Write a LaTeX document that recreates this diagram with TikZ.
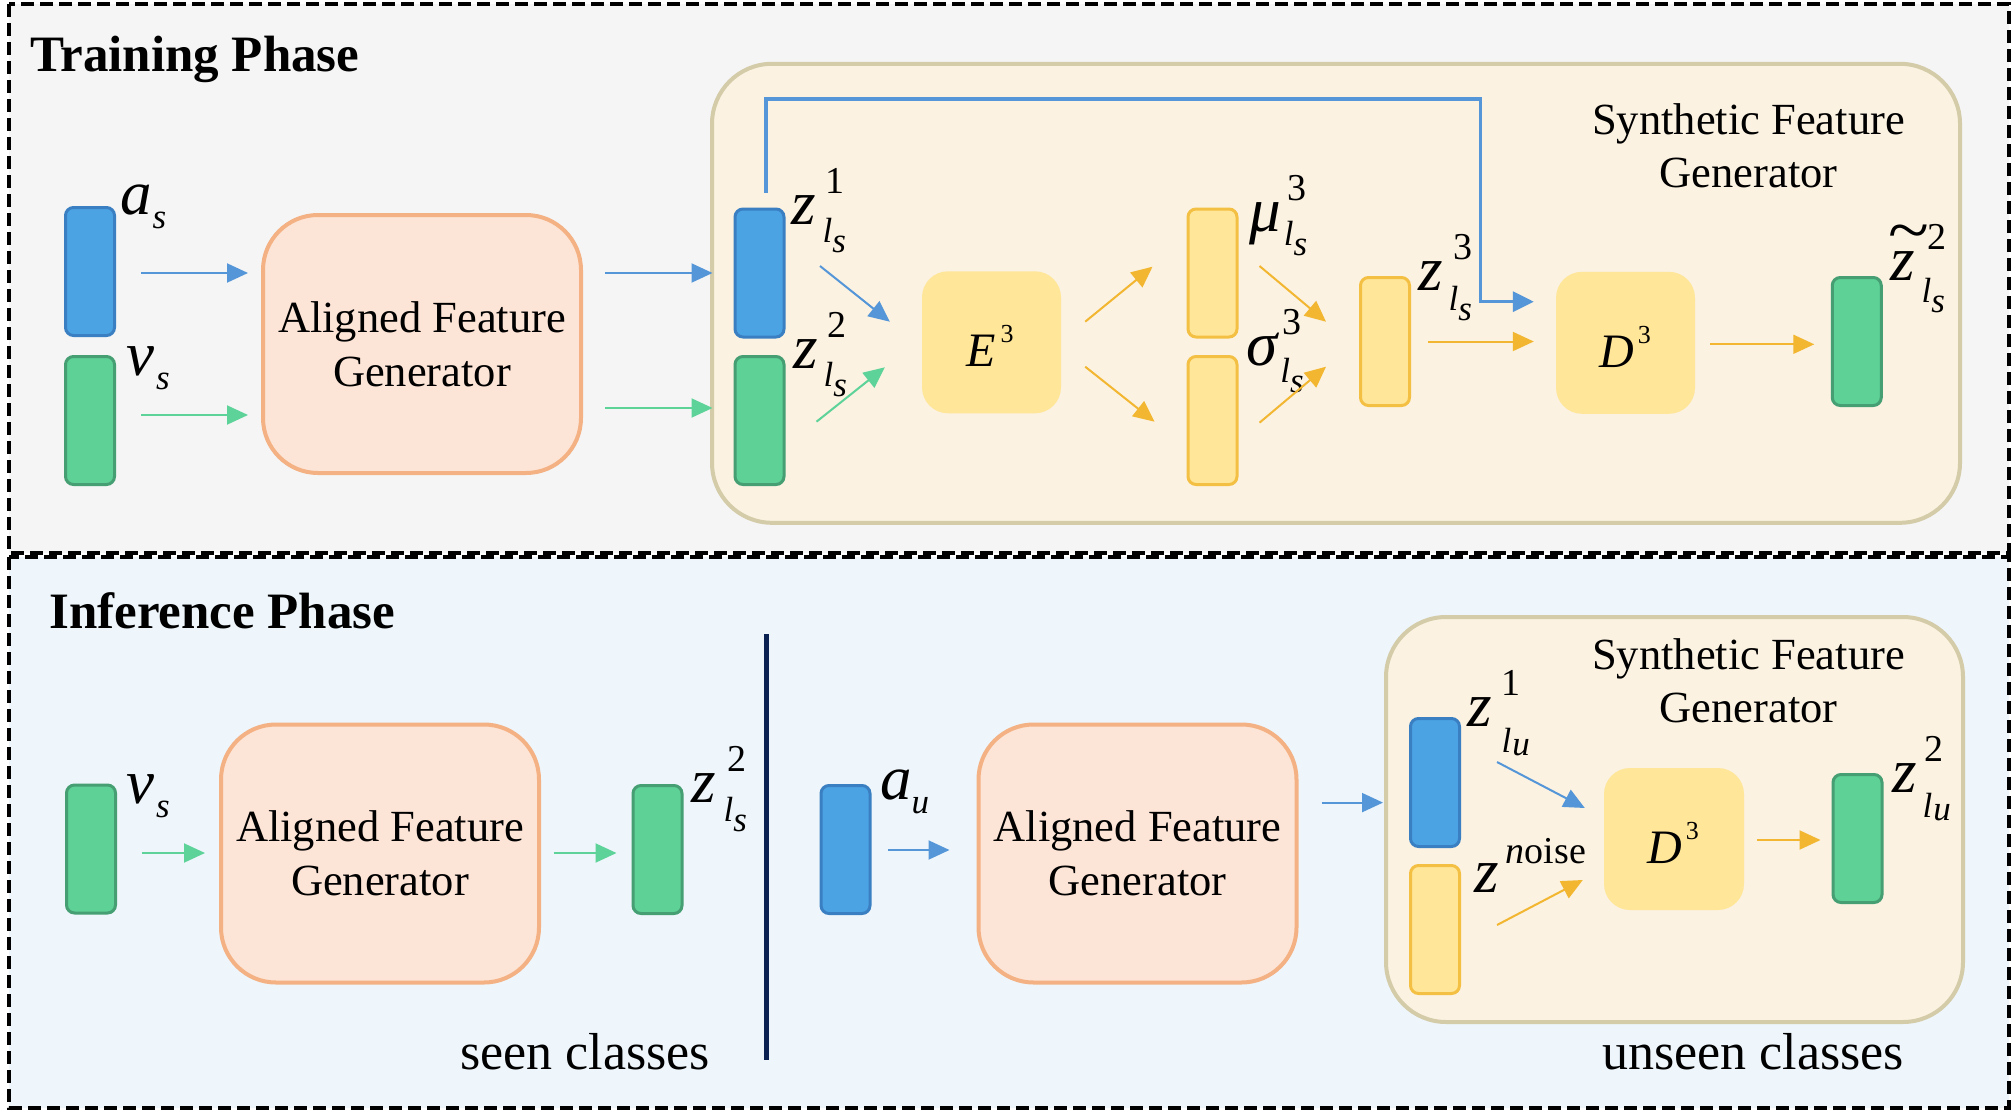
\documentclass[tikz,border=0pt]{standalone}
\usepackage{fontspec}
\usepackage{graphicx}
\setmainfont{Liberation Serif}
\usetikzlibrary{arrows.meta,calc}
\definecolor{bluefill}{HTML}{4CA3E4}
\definecolor{blueedge}{HTML}{3A7FC1}
\definecolor{greenfill}{HTML}{5DD196}
\definecolor{greenedge}{HTML}{459F72}
\definecolor{yelfill}{HTML}{FFE699}
\definecolor{yeledge}{HTML}{F4C043}
\definecolor{orfill}{HTML}{FCE4D6}
\definecolor{oredge}{HTML}{F4B183}
\definecolor{synfill}{HTML}{FBF2E1}
\definecolor{synedge}{HTML}{D4CBA9}
\definecolor{topbg}{HTML}{F5F5F5}
\definecolor{botbg}{HTML}{EEF6FB}
\definecolor{arrblue}{HTML}{5596D8}
\definecolor{arrgreen}{HTML}{5DD39A}
\definecolor{arryel}{HTML}{F2B631}
\definecolor{navy}{HTML}{0B2152}
\newcommand{\mainf}{\fontsize{63}{63}\selectfont}
\newcommand{\supf}{\fontsize{38}{38}\selectfont}
\newcommand{\subf}{\fontsize{35}{35}\selectfont}
% #1 sup kern, #2 sub kern, #3 sub lowering, #4 main, #5 sup, #6 sub, #7 subsub
\newcommand{\Zlab}[7]{{\mainf\itshape #4}\makebox[0pt][l]{\kern#1pt\raisebox{31pt}{\supf\upshape #5}}\kern#2pt\raisebox{-#3pt}{\subf\itshape #6#7}}
\newcommand{\ssub}[1]{\raisebox{-10pt}{#1}}
\newcommand{\usub}[1]{\kern1pt\raisebox{-3pt}{#1}}
% #1 main, #2 sub, #3 kern
\newcommand{\Slab}[3]{{\mainf\itshape #1}\kern#3pt\raisebox{-14pt}{\subf\itshape #2}}
% #1 letter, #2 kern
\newcommand{\Elab}[2]{{\fontsize{48}{48}\selectfont\itshape #1}\kern#2pt\raisebox{24pt}{\fontsize{26}{26}\selectfont 3}}
\begin{document}
\begin{tikzpicture}[x=1pt,y=-1pt,
  frame/.style={draw=black, line width=4pt, dash pattern=on 13pt off 6pt},
  bar/.style={line width=3pt, rounded corners=8pt, minimum width=49pt, minimum height=128pt, inner sep=0pt},
  bluebar/.style={bar, draw=blueedge, fill=bluefill},
  greenbar/.style={bar, draw=greenedge, fill=greenfill},
  yelbar/.style={bar, draw=yeledge, fill=yelfill},
  afgbox/.style={draw=oredge, fill=orfill, line width=4pt, rounded corners=55pt, minimum width=318pt, minimum height=258pt, align=center, font=\fontsize{44.5}{54}\selectfont},
  synbox/.style={draw=synedge, fill=synfill, line width=4pt, rounded corners=60pt, inner sep=0pt},
  ebox/.style={fill=yelfill, rounded corners=26pt, minimum width=139pt, minimum height=142pt, inner sep=0pt},
  lab/.style={anchor=base west, inner sep=0pt},
  boxtext/.style={align=center, font=\fontsize{44.5}{53}\selectfont, inner sep=0pt},
  title/.style={anchor=base west, inner sep=0pt, font=\fontsize{51}{51}\selectfont\bfseries},
  cls/.style={anchor=base west, inner sep=0pt, font=\fontsize{52}{52}\selectfont},
  arr/.style={line width=2pt, -{Triangle[length=21pt,width=19pt]}},
  barr/.style={arr, draw=arrblue},
  garr/.style={arr, draw=arrgreen},
  yarr/.style={arr, draw=arryel},
  bline/.style={draw=arrblue, line width=3.5pt, -{Triangle[length=21pt,width=20pt]}}
]
\useasboundingbox (0,0) rectangle (2016,1116);
\fill[white] (0,0) rectangle (2016,1116);
\draw[frame, fill=topbg] (9,4) rectangle (2009,553);
\draw[frame, fill=botbg] (9,557) rectangle (2009,1108);

% ---------------- Training phase ----------------
\node[title] (ttrain) at (30,71) {Training Phase};
\node[bluebar] (as) at (90,271.5) {};
\node[greenbar] (vs) at (90,420.5) {};
\node[lab] (las) at (120,214) {\Slab{a}{s}{1}};
\node[lab] (lvs) at (126,375) {\Slab{v}{s}{2}};
\node[afgbox] (afg1) at (422,344) {Aligned Feature\\Generator};

\node[synbox, minimum width=1248pt, minimum height=459pt] (syn1) at (1336,293.3) {};
\node[boxtext] (syn1t) at (1748.5,146.2) {Synthetic Feature\\Generator};

\node[bluebar] (z1) at (759.5,273) {};
\node[greenbar] (z2) at (759.5,420.5) {};
\node[lab] (lz1) at (791,224) {\Zlab{10}{7}{18}{z}{1}{l}{\ssub{s}}};
\node[lab] (lz2) at (793,368) {\Zlab{10}{6}{18}{z}{2}{l}{\ssub{s}}};

\node[ebox] (E) at (991.5,342.3) {};
\node[lab] (Et) at (966,366) {\Elab{E}{5}};

\node[yelbar] (mu) at (1212.5,273) {};
\node[yelbar] (sig) at (1212.5,420.5) {};
\node[lab] (lmu) at (1249,231) {\Zlab{7}{3}{14}{μ}{3}{l}{\ssub{s}}};
\node[lab] (lsig) at (1246,365) {\Zlab{5}{3}{17}{σ}{3}{l}{\ssub{s}}};

\node[yelbar] (z3) at (1385,341.5) {};
\node[lab] (lz3) at (1418,290) {\Zlab{11}{6}{20}{z}{3}{l}{\ssub{s}}};

\node[ebox] (D) at (1625.5,342.8) {};
\node[lab] (Dt) at (1599,367) {\Elab{D}{4}};

\node[greenbar] (zt) at (1856.75,341.5) {};
\node[lab] (lzt) at (1890,280) {\makebox[0pt][l]{\kern-2pt\raisebox{28pt}{\scalebox{1.3}[1.15]{\fontsize{58}{58}\selectfont\textasciitilde}}}\Zlab{13}{7}{22}{z}{2}{l}{\ssub{s}}};

% connectors (training)
\draw[barr, shorten <=25pt, shorten >=13pt] (as.east |- 0,273) -- (afg1.west |- 0,273);
\draw[garr, shorten <=25pt, shorten >=13pt] (vs.east |- 0,415) -- (afg1.west |- 0,415);
\draw[barr, shorten <=22pt, shorten >=21pt] (afg1.east |- z1.east) -- (z1.west);
\draw[garr, shorten <=22pt, shorten >=21pt] (afg1.east |- 0,408) -- (z2.west |- 0,408);
\draw[bline] ($(z1.north)+(6.5,-15)$) -- ++(0,-93.7) -| ($(D.west)+(-75.5,-41.1)$) -- ($(D.west)+(-22,-41.1)$);
\draw[barr] ($(z1.east)+(34.5,-7)$) -- ($(E.west)+(-32,-20.6)$);
\draw[garr] ($(z2.east)+(31,1.2)$) -- ($(E.west)+(-37,25)$);
\draw[yarr] ($(E.east)+(24,-20.6)$) -- ($(mu.west)+(-34,-6.3)$);
\draw[yarr] ($(E.east)+(24,24.4)$) -- ($(sig.west)+(-32,1.2)$);
\draw[yarr] ($(mu.east)+(21,-7)$) -- ($(z3.west)+(-33,-19.8)$);
\draw[yarr] ($(sig.east)+(21,2.2)$) -- ($(z3.west)+(-33,25.2)$);
\draw[yarr, shorten <=17pt, shorten >=22pt] (z3.east) -- (D.west |- z3.east);
\draw[yarr, shorten <=15pt, shorten >=16.5pt] (D.east |- 0,344.3) -- (zt.west |- 0,344.3);

% ---------------- Inference phase ----------------
\node[title] (tinf) at (49,628) {Inference Phase};
\node[greenbar] (vs2) at (91,849) {};
\node[lab] (lvs2) at (126,803) {\Slab{v}{s}{2}};
\node[afgbox] (afg2) at (380,853.5) {Aligned Feature\\Generator};
\node[greenbar] (zs2) at (657.5,849.5) {};
\node[lab] (lzs2) at (691,802) {\Zlab{12}{8}{19}{z}{2}{l}{\ssub{s}}};
\node[cls] (seen) at (460,1069) {seen classes};

\coordinate (vtop) at (766,634);
\coordinate (vbot) at (766,1060);
\draw[navy, line width=5pt] (vtop) -- (vbot);

\node[bluebar] (au) at (845.5,849.5) {};
\node[lab] (lau) at (880,799) {\Slab{a}{u}{0}};
\node[afgbox] (afg3) at (1137.5,853.5) {Aligned Feature\\Generator};

\node[synbox, minimum width=577pt, minimum height=405pt] (syn2) at (1674.5,819.5) {};
\node[boxtext] (syn2t) at (1748.5,681.2) {Synthetic Feature\\Generator};
\node[bluebar] (zu1) at (1435,782.5) {};
\node[yelbar] (nz) at (1435,929.5) {};
\node[lab] (lzu1) at (1467,726) {\Zlab{10}{10}{26}{z}{1}{l}{\usub{u}}};
\node[lab] (lnz) at (1474,892) {{\mainf\itshape z}\kern7pt\raisebox{29pt}{\fontsize{38}{38}\selectfont{\itshape n}oise}};
\node[ebox, minimum width=140pt, minimum height=142pt] (D2) at (1674,839) {};
\node[lab] (D2t) at (1647,863) {\Elab{D}{4}};
\node[greenbar] (zu2) at (1857.5,838.5) {};
\node[lab] (lzu2) at (1892,792) {\Zlab{8}{6}{25}{z}{2}{l}{\usub{u}}};
\node[cls] (unseen) at (1602,1069) {unseen classes};

% connectors (inference)
\draw[garr, shorten <=25pt, shorten >=14pt] (vs2.east |- 0,853) -- (afg2.west |- 0,853);
\draw[garr, shorten <=12.5pt, shorten >=15pt] (afg2.east |- 0,853) -- (zs2.west |- 0,853);
\draw[barr, shorten <=16.5pt, shorten >=27pt] (au.east |- 0,850) -- (afg3.west |- 0,850);
\draw[barr, shorten <=23pt, shorten >=1pt] (afg3.east |- 0,802.6) -- (syn2.west |- 0,802.6);
\draw[barr] ($(zu1.east)+(36,-20.5)$) -- ($(D2.west)+(-19,-31)$);
\draw[yarr] ($(nz.east)+(36,-4.5)$) -- ($(D2.west)+(-21,41)$);
\draw[yarr, shorten <=13pt, shorten >=11pt] (D2.east |- 0,840) -- (zu2.west |- 0,840);
\end{tikzpicture}
\end{document}
